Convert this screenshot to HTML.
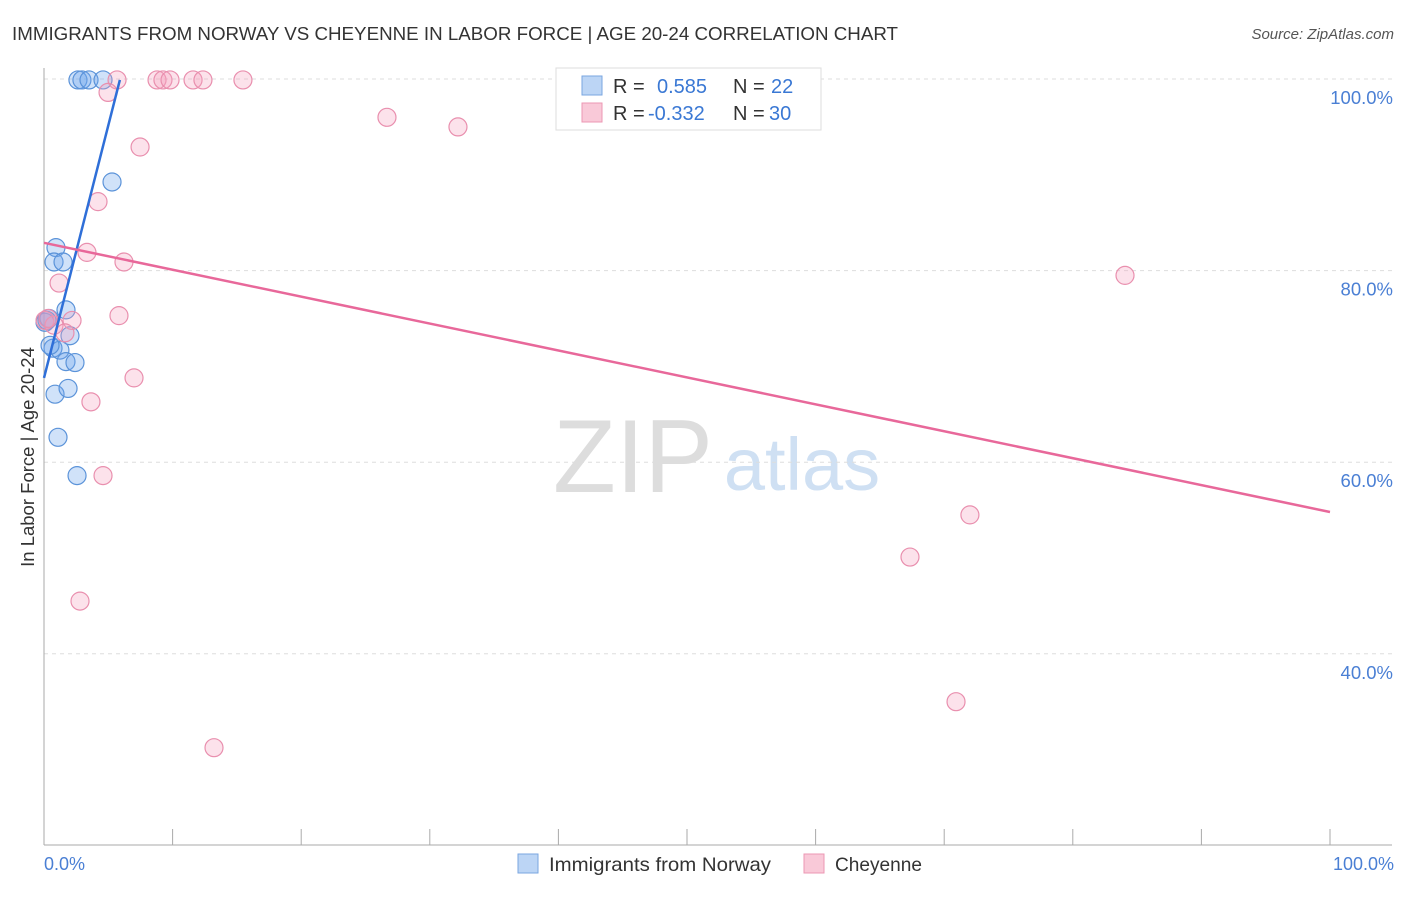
<!DOCTYPE html>
<html><head><meta charset="utf-8"><style>
body{margin:0;background:#fff;font-family:"Liberation Sans",sans-serif;}
svg text{font-family:"Liberation Sans",sans-serif;}
</style></head><body>
<svg id="chart" width="1406" height="892">
<text x="12" y="40" font-size="18.5" fill="#333" textLength="886" lengthAdjust="spacingAndGlyphs">IMMIGRANTS FROM NORWAY VS CHEYENNE IN LABOR FORCE | AGE 20-24 CORRELATION CHART</text>
<text x="1394" y="39" font-size="15" fill="#555" font-style="italic" text-anchor="end">Source: ZipAtlas.com</text>
<g>
<text x="633" y="492" font-size="104" fill="#ddd" font-family="Liberation Serif,serif" text-anchor="middle" textLength="160" lengthAdjust="spacingAndGlyphs">ZIP</text>
<text x="802" y="490" font-size="74" fill="#cfe0f3" text-anchor="middle">atlas</text>
</g>
<g id="grid"></g>
<g id="axes"></g>
<g id="marks"></g>
<text transform="translate(34,457) rotate(-90)" font-size="18.5" fill="#333" text-anchor="middle">In Labor Force | Age 20-24</text>
<text x="44" y="870" font-size="18" fill="#4a7fd4">0.0%</text>
<text x="1394" y="870" font-size="18" fill="#4a7fd4" text-anchor="end">100.0%</text>
<g>
<rect x="556" y="68" width="265" height="62" fill="#fff" stroke="#ddd"/>
<rect x="582" y="76" width="20" height="19" fill="#bcd5f5" stroke="#7aa6e0"/>
<rect x="582" y="103" width="20" height="19" fill="#f9c9d8" stroke="#ec97b3"/>
<text x="613" y="93" font-size="20" fill="#333">R = <tspan fill="#3a78d4" x="657">0.585</tspan><tspan x="733" fill="#333">N = </tspan><tspan x="771" fill="#3a78d4">22</tspan></text>
<text x="613" y="120" font-size="20" fill="#333">R = <tspan fill="#3a78d4" x="648">-0.332</tspan><tspan x="733" fill="#333">N = </tspan><tspan x="769" fill="#3a78d4">30</tspan></text>
</g>
<g>
<rect x="518" y="854" width="20" height="19" fill="#bcd5f5" stroke="#7aa6e0"/>
<text x="549" y="871" font-size="19.5" fill="#333" textLength="222" lengthAdjust="spacingAndGlyphs">Immigrants from Norway</text>
<rect x="804" y="854" width="20" height="19" fill="#f9c9d8" stroke="#ec97b3"/>
<text x="835" y="871" font-size="19.5" fill="#333" textLength="87" lengthAdjust="spacingAndGlyphs">Cheyenne</text>
</g>
</svg>
<script>
const yTicks=[100,80,60,40];
const yTickLabels=["100.0%","80.0%","60.0%","40.0%"];
const blueX=[2.64,2.95,3.5,4.59,5.29,0.93,0.78,1.48,1.71,0.39,0.08,2.02,0.7,1.24,1.71,2.41,0.86,1.87,1.09,2.57,0.23,0.47];
const blueY=[99.9,99.9,99.9,99.9,89.25,82.4,80.9,80.9,75.9,75.0,74.6,73.2,71.9,71.7,70.5,70.4,67.1,67.7,62.6,58.6,74.8,72.2];
const pinkX=[5.68,8.79,9.25,9.8,11.59,12.36,15.47,4.98,7.47,4.2,3.34,6.22,1.17,5.83,2.18,0.08,0.78,1.63,7.0,3.65,4.59,2.8,13.22,26.67,32.19,84.06,72.0,67.34,70.92,0.31];
const pinkY=[99.9,99.9,99.9,99.9,99.9,99.9,99.9,98.6,92.9,87.2,81.9,80.9,78.7,75.3,74.8,74.8,74.3,73.5,68.8,66.3,58.6,45.5,30.2,96.0,95.0,79.5,54.5,50.1,35.0,75.0];
const blueTrendX=[0,5.9];
const blueTrendY=[68.8,99.9];
const pinkTrendX=[0,100];
const pinkTrendY=[82.9,54.8];

const xs=v=>44+v*12.86;
const ys=v=>79+(100-v)*9.58;
const NS="http://www.w3.org/2000/svg";
function mk(tag,attrs,parent){const e=document.createElementNS(NS,tag);for(const k in attrs)e.setAttribute(k,attrs[k]);parent.appendChild(e);return e;}
const grid=document.getElementById('grid'),axes=document.getElementById('axes'),marks=document.getElementById('marks');
yTicks.forEach((t,i)=>{
  const l=mk('line',{x1:44,x2:1392,y1:ys(t),y2:ys(t),stroke:'#ddd','stroke-dasharray':'4,4'},grid);
  
  
  const tx=mk('text',{x:1393,y:ys(t)+25,'font-size':18.5,fill:'#4a7fd4','text-anchor':'end'},grid);
  tx.textContent=yTickLabels[i];
  
  
});
const ax=mk('line',{x1:44,x2:1392,y1:845,y2:845,stroke:'#aaa'},axes);


const ay=mk('line',{x1:44,x2:44,y1:68,y2:845,stroke:'#aaa'},axes);


for(let k=0;k<=10;k++){
  const t=mk('line',{x1:xs(k*10),x2:xs(k*10),y1:829,y2:845,stroke:'#aaa'},axes);
  
  
}
function pts(X,Y,fill,stroke,name){
  X.forEach((x,i)=>{
    const c=mk('circle',{cx:xs(x),cy:ys(Y[i]),r:9,fill:fill,stroke:stroke,'stroke-width':1.2},marks);
    
    
  });
}
pts(blueX,blueY,'rgba(110,165,235,0.32)','#5b93d9','norway-point');
pts(pinkX,pinkY,'rgba(245,160,190,0.3)','#e98fae','cheyenne-point');
const bl=mk('line',{x1:xs(blueTrendX[0]),y1:ys(blueTrendY[0]),x2:xs(blueTrendX[1]),y2:ys(blueTrendY[1]),stroke:'#2f6fd8','stroke-width':2.5},marks);


const pl=mk('line',{x1:xs(pinkTrendX[0]),y1:ys(pinkTrendY[0]),x2:xs(pinkTrendX[1]),y2:ys(pinkTrendY[1]),stroke:'#e8689a','stroke-width':2.5},marks);


</script>
</body></html>
